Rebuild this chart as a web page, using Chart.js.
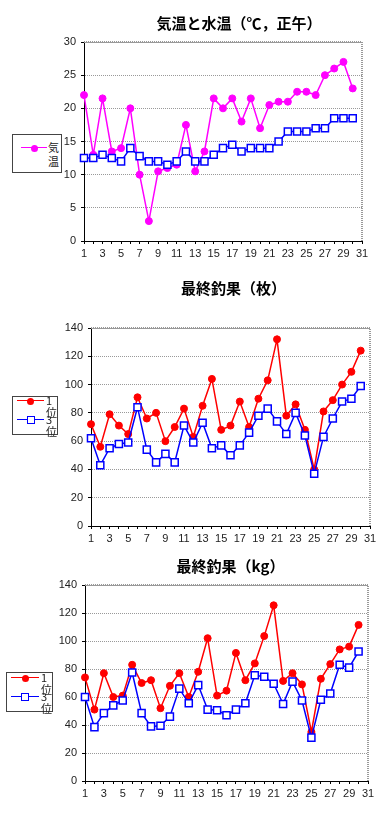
<!DOCTYPE html>
<html lang="ja">
<head>
<meta charset="utf-8">
<title>気温と水温・最終釣果</title>
<script src="https://cdn.jsdelivr.net/npm/chart.js@4.4.1/dist/chart.umd.min.js"></script>
<style>
  html, body { margin: 0; padding: 0; background: #fff; }
  body { position: relative; width: 386px; height: 823px; overflow: hidden; font-family: "Liberation Sans", Arial, sans-serif; }
  canvas { position: absolute; left: 0; }
  .legend { position: absolute; border: 1px solid #444; background: #fff; box-sizing: border-box; }
  .legend .ln { position: absolute; height: 0; border-top: 1.5px solid; }
  .legend .dot { position: absolute; width: 7px; height: 7px; border-radius: 50%; margin: -3.5px 0 0 -3.5px; }
  .legend .sq { position: absolute; width: 6px; height: 6px; background: #fff; border: 1.5px solid; margin: -4px 0 0 -4px; }
  .legend .tx { position: absolute; width: 12px; font-family: "Noto Sans CJK JP", sans-serif; font-size: 11px; color: #222; word-break: break-all; }
</style>
</head>
<body>
<canvas id="c1" width="386" height="270" style="top:0"></canvas>
<canvas id="c2" width="386" height="280" style="top:270px"></canvas>
<canvas id="c3" width="386" height="273" style="top:550px"></canvas>

<script>
// 日付 (1〜31)
const dayLabels = [1, 2, 3, 4, 5, 6, 7, 8, 9, 10, 11, 12, 13, 14, 15, 16, 17, 18, 19, 20,
  21, 22, 23, 24, 25, 26, 27, 28, 29, 30, 31];

// 気温と水温 (℃, 正午)
const airTemp = [22, 13, 21.5, 13.5, 14, 20, 10, 3, 10.5, 11, 11.5, 17.5, 10.5, 13.5, 21.5,
  20, 21.5, 18, 21.5, 17, 20.5, 21, 21, 22.5, 22.5, 22, 25, 26, 27, 23];
const waterTemp = [12.5, 12.5, 13, 12.5, 12, 14, 12.8, 12, 12, 11.5, 12, 13.5, 12, 12, 13,
  14, 14.5, 13.5, 14, 14, 14, 15, 16.5, 16.5, 16.5, 17, 17, 18.5, 18.5, 18.5];

// 最終釣果 (枚)
const countFirst = [72, 56, 79, 71, 65, 91, 76, 80, 60, 70, 83, 63, 85, 104, 68,
  71, 88, 70, 90, 103, 132, 78, 86, 68, 40, 81, 89, 100, 109, 124];
const countThird = [62, 43, 55, 58, 59, 84, 54, 45, 51, 45, 71, 59, 73, 55, 57,
  50, 57, 66, 78, 83, 74, 65, 80, 64, 37, 63, 76, 88, 90, 99];

// 最終釣果 (kg)
const kgFirst = [74, 51, 77, 60, 61, 83, 70, 72, 52, 68, 77, 60, 78, 102, 61,
  64.5, 91.5, 72, 84, 103.5, 125.5, 71.5, 77, 69, 35, 73, 83.5, 94, 96, 111.5];
const kgThird = [60, 38.5, 48.5, 54, 57.5, 77.5, 48.5, 39, 39.5, 46, 66, 55.5, 68.5, 51, 50.5,
  47, 51, 55.5, 75.5, 74.5, 69.5, 55, 71, 57.5, 31, 58, 62.5, 83, 81, 92.5];

const tickFont = { family: '"Liberation Sans", Arial, sans-serif', size: 11 };

// 右と上の枠線 + タイトル位置の微調整
const framePlugin = {
  id: 'frame',
  afterLayout(chart, args, opts) {
    const t = chart.titleBlock;
    if (t && opts.titleDx) {
      t.left += opts.titleDx;
      t.right += opts.titleDx;
    }
  },
  afterDraw(chart) {
    const { ctx, chartArea: a } = chart;
    ctx.save();
    ctx.strokeStyle = '#999';
    ctx.lineWidth = 2;
    ctx.setLineDash([1, 1]);
    ctx.beginPath();
    ctx.moveTo(a.left, a.top);
    ctx.lineTo(a.right, a.top);
    ctx.lineTo(a.right, a.bottom);
    ctx.stroke();
    ctx.restore();
  }
};

function lineSet(data, color, square, order) {
  return {
    data: data,
    borderColor: color,
    backgroundColor: square ? '#fff' : color,
    borderWidth: 1.5,
    tension: 0,
    pointStyle: square ? 'rect' : 'circle',
    pointRadius: square ? 5 : 3.5,
    pointBorderWidth: square ? 1.5 : 1,
    pointHoverRadius: square ? 5 : 3.5,
    order: order
  };
}

function makeChart(id, title, datasets, yMax, yStep, lay) {
  return new Chart(document.getElementById(id), {
    type: 'line',
    data: { labels: dayLabels, datasets: datasets },
    plugins: [framePlugin],
    options: {
      responsive: false,
      animation: false,
      layout: { padding: { left: 0, right: lay.right, top: 0, bottom: lay.bottom } },
      plugins: {
        legend: { display: false },
        tooltip: { enabled: false },
        frame: { titleDx: lay.titleDx },
        title: {
          display: true,
          text: title,
          fullSize: false,
          color: '#000',
          font: { family: '"Noto Sans CJK JP", sans-serif', size: 15, weight: 'bold' },
          padding: { top: lay.titleTop, bottom: lay.titleBottom }
        }
      },
      scales: {
        x: {
          type: 'category',
          offset: false,
          afterFit: (s) => { s.height = 20; },
          grid: { display: true, drawOnChartArea: false, tickLength: 3, color: '#000', tickColor: '#000' },
          border: { color: '#000', width: 1 },
          ticks: {
            autoSkip: false,
            maxRotation: 0,
            padding: 3,
            color: '#222',
            font: tickFont,
            callback: (v, i) => (i % 2 === 0 ? dayLabels[i] : '')
          }
        },
        y: {
          min: 0,
          max: yMax,
          afterFit: (s) => { s.width = lay.yWidth; },
          grid: { color: '#999', tickColor: '#000', tickLength: 3, tickBorderDash: [] },
          border: { color: '#000', width: 1, dash: [1, 1] },
          ticks: { stepSize: yStep, padding: 5, color: '#222', font: tickFont }
        }
      }
    }
  });
}

makeChart('c1', '気温と水温（℃，正午）', [
  lineSet(airTemp, '#ff00ff', false, 2),
  lineSet(waterTemp, '#0000ff', true, 1)
], 30, 5, { right: 24, bottom: 9, yWidth: 84, titleTop: 14, titleBottom: 10, titleDx: 16 });

makeChart('c2', '最終釣果（枚）', [
  lineSet(countFirst, '#ff0000', false, 2),
  lineSet(countThird, '#0000ff', true, 1)
], 140, 20, { right: 16, bottom: 4, yWidth: 91, titleTop: 9, titleBottom: 31, titleDx: 3 });

makeChart('c3', '最終釣果（kg）', [
  lineSet(kgFirst, '#ff0000', false, 2),
  lineSet(kgThird, '#0000ff', true, 1)
], 140, 20, { right: 18, bottom: 22, yWidth: 85, titleTop: 7, titleBottom: 10, titleDx: 4 });

// 凡例 (HTML)
function addLegend(box, items) {
  const el = document.createElement('div');
  el.className = 'legend';
  el.style.left = box.left + 'px';
  el.style.top = box.top + 'px';
  el.style.width = box.width + 'px';
  el.style.height = box.height + 'px';
  items.forEach((it) => {
    const ln = document.createElement('div');
    ln.className = 'ln';
    ln.style.left = box.lineX + 'px';
    ln.style.width = box.lineW + 'px';
    ln.style.top = (it.y - 1) + 'px';
    ln.style.borderColor = it.color;
    el.appendChild(ln);
    const mk = document.createElement('div');
    mk.className = it.square ? 'sq' : 'dot';
    mk.style.left = (box.lineX + box.lineW / 2) + 'px';
    mk.style.top = it.y + 'px';
    if (it.square) mk.style.borderColor = it.color; else mk.style.background = it.color;
    el.appendChild(mk);
    const tx = document.createElement('div');
    tx.className = 'tx';
    tx.style.left = box.textX + 'px';
    tx.style.top = (it.y - box.lh / 2 - 1) + 'px';
    tx.style.lineHeight = box.lh + 'px';
    tx.textContent = it.text;
    el.appendChild(tx);
  });
  document.body.appendChild(el);
}

addLegend({ left: 12, top: 134, width: 50, height: 39, lineX: 8, lineW: 26, textX: 35, lh: 14 },
  [{ text: '気温', color: '#ff00ff', square: false, y: 13 }]);
addLegend({ left: 12, top: 396, width: 46, height: 39, lineX: 4, lineW: 27, textX: 33, lh: 12 },
  [{ text: '1位', color: '#ff0000', square: false, y: 4 },
   { text: '3位', color: '#0000ff', square: true, y: 23 }]);
addLegend({ left: 6, top: 672, width: 47, height: 40, lineX: 4, lineW: 28, textX: 34, lh: 12 },
  [{ text: '1位', color: '#ff0000', square: false, y: 5 },
   { text: '3位', color: '#0000ff', square: true, y: 24 }]);
</script>
</body>
</html>
